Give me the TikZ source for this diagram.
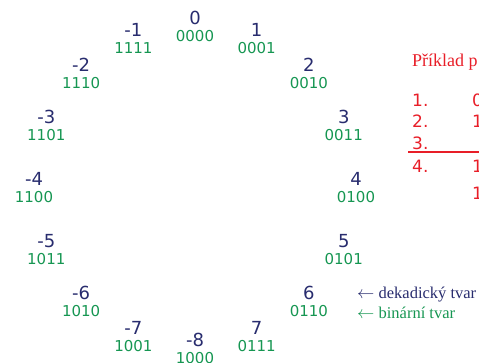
\documentclass[tikz,border=0pt]{standalone}
\usepackage{fontspec}
\setmainfont{Liberation Serif}
\newfontfamily\numfont{DejaVu Sans}
\usetikzlibrary{calc,positioning}
\definecolor{decblue}{RGB}{40,44,110}
\definecolor{bingreen}{RGB}{22,150,82}
\definecolor{exred}{RGB}{232,30,40}
\tikzset{
  decnum/.style={font=\numfont\fontsize{18}{20}\selectfont,text=decblue,inner sep=0pt},
  binnum/.style={font=\numfont\fontsize{15}{17}\selectfont,text=bingreen,inner sep=0pt},
  note/.style={font=\fontsize{16.5}{18}\selectfont,anchor=west,inner sep=0pt},
  extitle/.style={font=\fontsize{18}{20}\selectfont,text=exred,anchor=base west,inner sep=0pt},
  exnum/.style={font=\numfont\fontsize{17}{19}\selectfont,text=exred,anchor=base west,inner sep=0pt},
}

\begin{document}
\begin{tikzpicture}[x=1pt,y=1pt]
  \useasboundingbox (0,0) rectangle (479,-362);
  \clip (0,0) rectangle (479,-362);
  \coordinate (c) at (195,-179);

  % 4-bit two's complement wheel
  \foreach \i/\dv/\bv [evaluate=\i as \a using 90-22.5*\i] in {0/0/0000,1/1/0001,2/2/0010,
      3/3/0011,4/4/0100,5/5/0101,6/6/0110,7/7/0111,8/-8/1000,9/-7/1001,10/-6/1010,
      11/-5/1011,12/-4/1100,13/-3/1101,14/-2/1110,15/-1/1111}{
    \node[decnum] (dec\i) at ($(c)+(\a:161)$) {\dv};
    \node[binnum] (bin\i) at ($(dec\i.center)+(0,-18)$) {\bv};
  }

  \node[note,text=decblue] (dek) at (357,-295) {$\leftarrow$ dekadický tvar};
  \node[note,text=bingreen] (bina) at (357,-313) {$\leftarrow$ binární tvar};

  % example on the right (cut off)
  \node[extitle] (title) at (412,-66) {Příklad p};
  \node[exnum] (r1) at (412,-106) {1.};
  \node[exnum] (r2) at (412,-127) {2.};
  \node[exnum] (r3) at (412,-149) {3.};
  \node[exnum] (r4) at (412,-172) {4.};
  \node[exnum] (v1) at (472,-106) {0};
  \node[exnum] (v2) at (472,-127) {1};
  \node[exnum] (v4) at (472,-172) {1};
  \node[exnum] (v5) at (472,-199) {1};
  \coordinate (lineend) at (479,-152);
  \draw[exred,line width=1.6pt] (r3.west|-lineend) ++(-4,0) -- (lineend);
\end{tikzpicture}
\end{document}
